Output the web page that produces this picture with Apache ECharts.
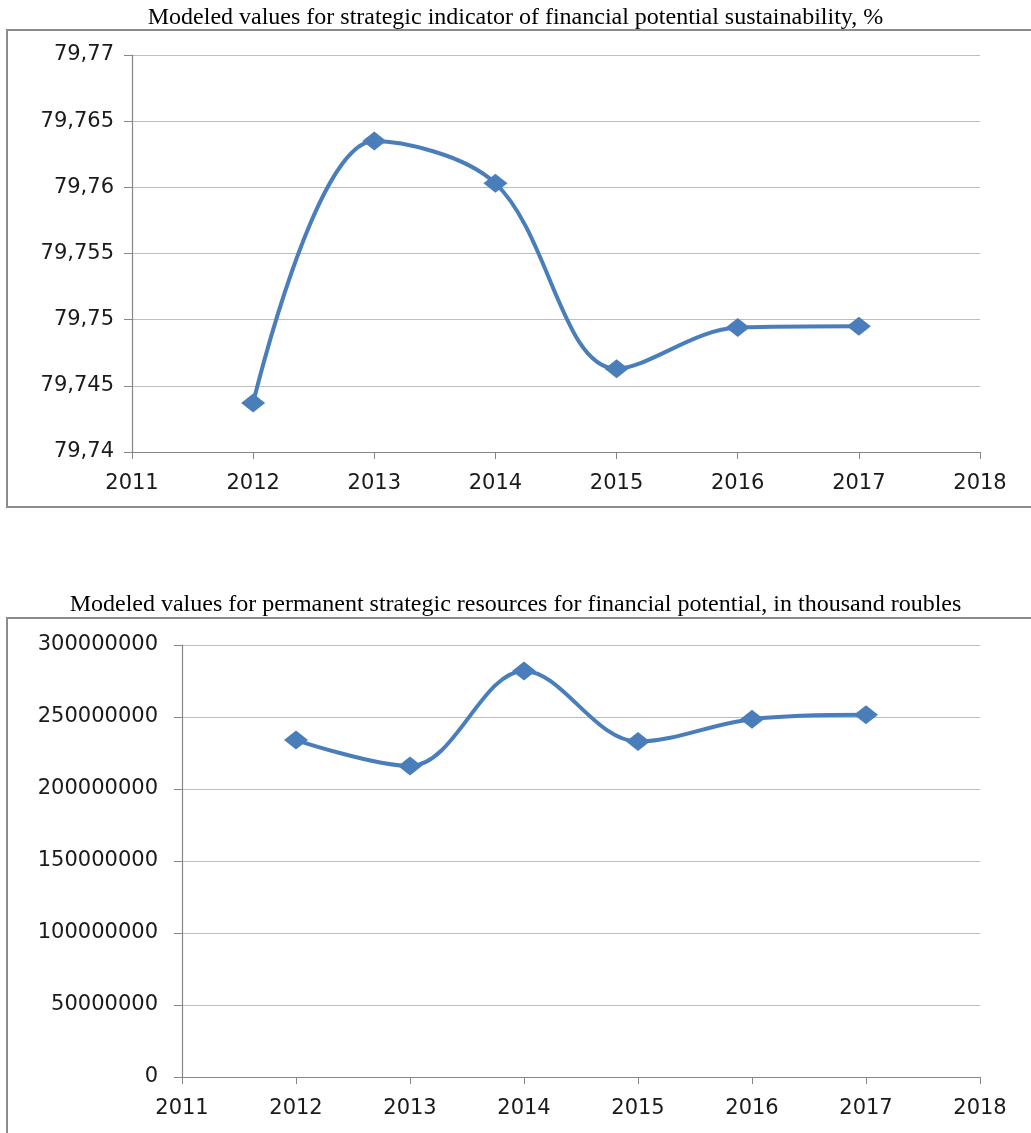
<!DOCTYPE html>
<html><head><meta charset="utf-8">
<script src="https://cdn.jsdelivr.net/npm/echarts@6/dist/echarts.min.js"></script>
<style>html,body{margin:0;padding:0;background:#fff}#c{width:1031px;height:1133px}</style>
</head><body><div id="c"></div>
<script>
const years = [2012, 2013, 2014, 2015, 2016, 2017];
const sustainability = [79.7437, 79.7635, 79.7603, 79.7463, 79.7494, 79.7495];
const resources = [234000000, 216000000, 282000000, 233000000, 248500000, 251500000];
const title1 = 'Modeled values for strategic indicator of financial potential sustainability, %';
const title2 = 'Modeled values for permanent strategic resources for financial potential, in thousand roubles';

const lineColor = '#4a7ebb';
const axisFont = {fontFamily: "'DejaVu Sans'", fontSize: 21, color: '#1a1a1a'};
const titleFont = {fontFamily: "'Liberation Serif'", fontWeight:'normal', fontSize:24, color:'#000'};

function xAxis(gi){
  return {type:'value', gridIndex:gi, min:2011, max:2018, interval:1,
    axisLine:{lineStyle:{color:'#868686', width:1.2}},
    axisTick:{show:true, inside:false, length:7, lineStyle:{color:'#868686'}},
    axisLabel:Object.assign({margin:21, formatter:v=>String(v)}, axisFont),
    splitLine:{show:false}};
}
const chart = echarts.init(document.getElementById('c'));
chart.setOption({
  animation:false,
  title:[
    {text:title1, left:'center', top:6, textStyle:titleFont, padding:0},
    {text:title2, left:'center', top:593, textStyle:titleFont, padding:0}
  ],
  graphic:[
    {type:'rect', shape:{x:7, y:30, width:1060, height:477}, style:{fill:'none', stroke:'#8c8c8c', lineWidth:2}, z:-1},
    {type:'rect', shape:{x:7, y:618, width:1060, height:560}, style:{fill:'none', stroke:'#8c8c8c', lineWidth:2}, z:-1}
  ],
  grid:[
    {left:132, right:51, top:55, bottom:681},
    {left:182, right:51, top:645, bottom:56}
  ],
  xAxis:[xAxis(0), xAxis(1)],
  yAxis:[
    {type:'value', gridIndex:0, min:79.74, max:79.77, interval:0.005,
      axisLine:{show:true, lineStyle:{color:'#868686', width:1.2}},
      axisTick:{show:true, length:8, lineStyle:{color:'#868686'}},
      axisLabel:Object.assign({margin:18, formatter:v=>String(+v.toFixed(3)).replace('.', ',')}, axisFont),
      splitLine:{lineStyle:{color:'#bdbdbd', width:1.2}}},
    {type:'value', gridIndex:1, min:0, max:300000000, interval:50000000,
      axisLine:{show:true, lineStyle:{color:'#868686', width:1.2}},
      axisTick:{show:true, length:8, lineStyle:{color:'#868686'}},
      axisLabel:Object.assign({margin:24, formatter:v=>String(v)}, axisFont),
      splitLine:{lineStyle:{color:'#bdbdbd', width:1.2}}}
  ],
  series:[
    {type:'line', xAxisIndex:0, yAxisIndex:0, smooth:0.35, data:years.map((y,i)=>[y, sustainability[i]]),
      symbol:'diamond', symbolSize:[24,19], itemStyle:{color:lineColor}, lineStyle:{color:lineColor, width:4}},
    {type:'line', xAxisIndex:1, yAxisIndex:1, smooth:0.35, data:years.map((y,i)=>[y, resources[i]]),
      symbol:'diamond', symbolSize:[24,19], itemStyle:{color:lineColor}, lineStyle:{color:lineColor, width:4}}
  ]
});
</script></body></html>
